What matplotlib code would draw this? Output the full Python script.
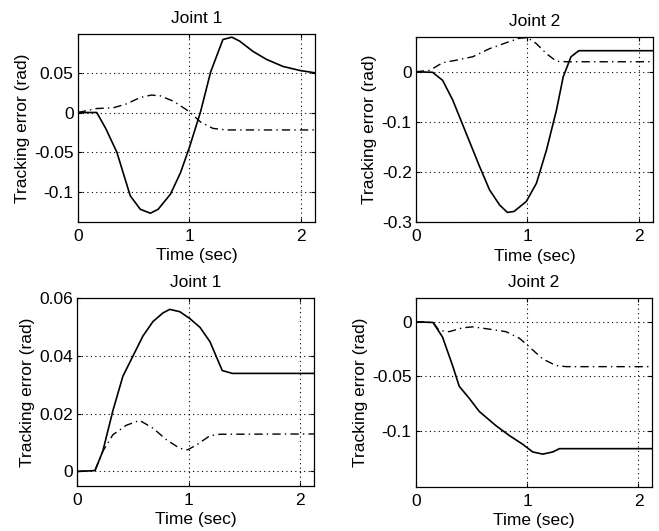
import matplotlib
matplotlib.use("Agg")
import matplotlib.pyplot as plt

plt.rcParams['font.family'] = ['Liberation Sans', 'DejaVu Sans']
plt.rcParams['axes.unicode_minus'] = False

# Top-left: Joint 1
t_tl_s = [0, 0.17, 0.25, 0.35, 0.47, 0.56, 0.65, 0.72, 0.83, 0.92, 1.0, 1.1, 1.19, 1.3, 1.38, 1.45, 1.57, 1.69, 1.84, 1.99, 2.125]
y_tl_s = [0, 0, -0.02, -0.05, -0.105, -0.122, -0.127, -0.122, -0.103, -0.076, -0.044, 0.001, 0.051, 0.092, 0.095, 0.09, 0.077, 0.067, 0.058, 0.053, 0.05]
t_tl_d = [0, 0.17, 0.32, 0.44, 0.56, 0.66, 0.74, 0.86, 1.0, 1.1, 1.21, 1.33, 2.125]
y_tl_d = [0, 0.005, 0.006, 0.011, 0.019, 0.022, 0.021, 0.014, 0.001, -0.012, -0.02, -0.022, -0.022]

# Top-right: Joint 2
t_tr_s = [0, 0.15, 0.24, 0.33, 0.45, 0.57, 0.66, 0.75, 0.82, 0.88, 0.99, 1.08, 1.17, 1.26, 1.32, 1.39, 1.46, 2.125]
y_tr_s = [0, -0.001, -0.017, -0.056, -0.122, -0.188, -0.235, -0.265, -0.28, -0.278, -0.258, -0.222, -0.156, -0.076, -0.01, 0.03, 0.042, 0.042]
t_tr_d = [0, 0.125, 0.24, 0.36, 0.51, 0.66, 0.81, 0.93, 1.0, 1.08, 1.17, 1.26, 1.35, 2.125]
y_tr_d = [0, 0.003, 0.018, 0.023, 0.03, 0.046, 0.058, 0.067, 0.068, 0.056, 0.036, 0.021, 0.02, 0.02]

# Bottom-left: Joint 1
t_bl_s = [0, 0.16, 0.23, 0.32, 0.41, 0.5, 0.59, 0.68, 0.77, 0.83, 0.92, 1.01, 1.1, 1.19, 1.3, 1.39, 2.125]
y_bl_s = [0, 0.0003, 0.007, 0.021, 0.033, 0.040, 0.047, 0.052, 0.055, 0.0562, 0.0554, 0.053, 0.050, 0.045, 0.035, 0.034, 0.034]
t_bl_d = [0, 0.16, 0.23, 0.32, 0.44, 0.56, 0.68, 0.8, 0.92, 0.99, 1.07, 1.19, 1.28, 2.125]
y_bl_d = [0, 0.0003, 0.007, 0.0127, 0.016, 0.0177, 0.015, 0.011, 0.008, 0.0075, 0.0092, 0.0124, 0.0129, 0.013]

# Bottom-right: Joint 2
t_br_s = [0, 0.155, 0.24, 0.33, 0.39, 0.48, 0.57, 0.72, 0.84, 0.96, 1.05, 1.14, 1.23, 1.29, 2.125]
y_br_s = [0, -0.0006, -0.014, -0.04, -0.059, -0.07, -0.082, -0.095, -0.104, -0.112, -0.119, -0.121, -0.119, -0.116, -0.116]
t_br_d = [0, 0.155, 0.21, 0.3, 0.42, 0.51, 0.66, 0.81, 0.93, 1.02, 1.14, 1.26, 1.35, 2.125]
y_br_d = [0, -0.0006, -0.008, -0.009, -0.0055, -0.0046, -0.0067, -0.009, -0.015, -0.023, -0.034, -0.04, -0.041, -0.041]

titles = ["Joint 1", "Joint 2", "Joint 1", "Joint 2"]
xticks = [0, 1, 2]
xticklabels = ["0", "1", "2"]
yticks_list = [[-0.1, -0.05, 0, 0.05], [-0.3, -0.2, -0.1, 0], [0, 0.02, 0.04, 0.06], [-0.1, -0.05, 0]]
yticklabels_list = [["-0.1", "-0.05", "0", "0.05"], ["-0.3", "-0.2", "-0.1", "0"],
                    ["0", "0.02", "0.04", "0.06"], ["-0.1", "-0.05", "0"]]

ylims = [(-0.138, 0.099), (-0.3, 0.07), (-0.005, 0.06), (-0.151, 0.0214)]
positions = [[0.118, 0.582, 0.360, 0.354],
             [0.631, 0.581, 0.360, 0.350],
             [0.117, 0.085, 0.360, 0.353],
             [0.631, 0.083, 0.359, 0.355]]
data = [(t_tl_s, y_tl_s, t_tl_d, y_tl_d),
        (t_tr_s, y_tr_s, t_tr_d, y_tr_d),
        (t_bl_s, y_bl_s, t_bl_d, y_bl_d),
        (t_br_s, y_br_s, t_br_d, y_br_d)]

FS = 12.5
fig = plt.figure(figsize=(6.59, 5.31), dpi=100)
for i in range(4):
    ax = fig.add_axes(positions[i])
    ts, ys, td, yd = data[i]
    ax.plot(ts, ys, color='black', linewidth=1.2, linestyle='-')
    ax.plot(td, yd, color='black', linewidth=1.0, linestyle=(0, (6, 3, 1, 3)))
    ax.set_xlim(0, 2.125)
    ax.set_ylim(*ylims[i])
    ax.set_xticks(xticks)
    ax.set_xticklabels(xticklabels)
    ax.set_yticks(yticks_list[i])
    ax.set_yticklabels(yticklabels_list[i])
    ax.grid(True, color='black', linestyle=(0, (1, 3)), linewidth=0.8)
    ax.tick_params(direction='in', length=3, labelsize=FS, colors='black', top=True, right=True)
    ax.tick_params(axis='x', pad=5)
    ax.tick_params(axis='y', pad=3)
    for sp in ax.spines.values():
        sp.set_linewidth(0.9)
        sp.set_color('black')
    ax.set_title(titles[i], fontsize=FS, pad=8)
    ax.set_xlabel("Time (sec)", fontsize=FS, labelpad=3)
    ax.set_ylabel("Tracking error (rad)", fontsize=FS, labelpad=3)

fig.savefig("out.png", dpi=100)
